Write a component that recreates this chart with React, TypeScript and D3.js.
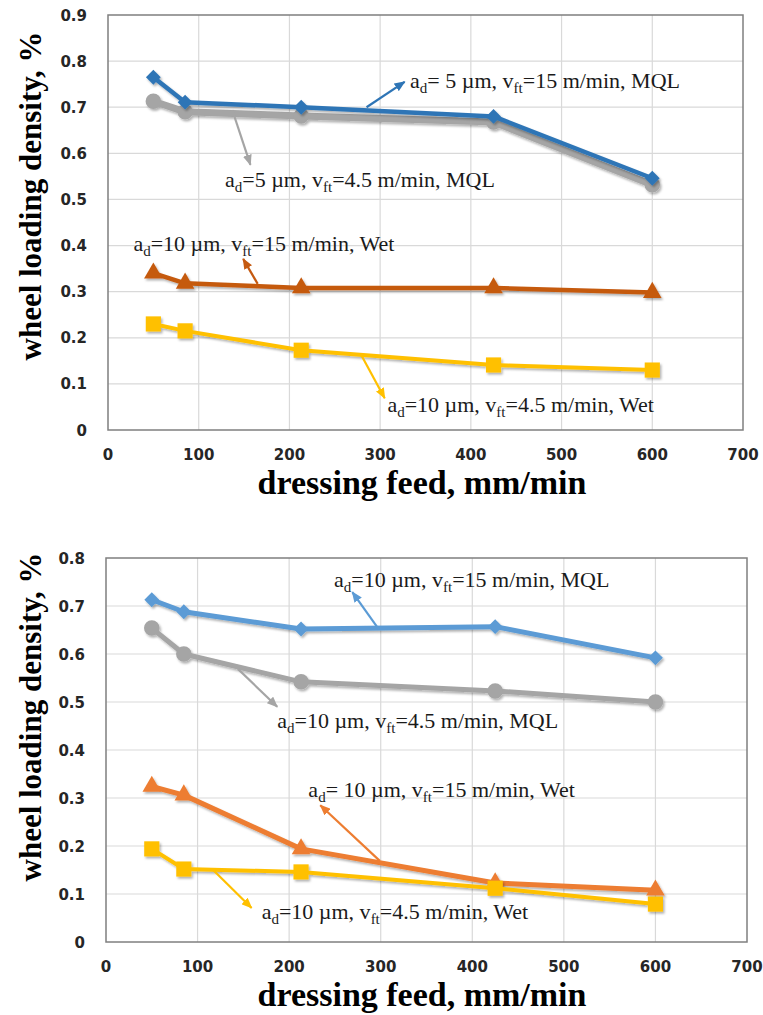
import * as d3 from 'd3';

// dressing feed values shared by every series (mm/min)
const feed = [50, 85, 213, 425, 600];
const xTicks = [0, 100, 200, 300, 400, 500, 600, 700];
const yTicksTop = [0, 0.1, 0.2, 0.3, 0.4, 0.5, 0.6, 0.7, 0.8, 0.9];
const yTicksBottom = [0, 0.1, 0.2, 0.3, 0.4, 0.5, 0.6, 0.7, 0.8];

// upper chart: wheel loading density, %
const topBlue = [0.765, 0.711, 0.7, 0.68, 0.546];
const topGray = [0.713, 0.69, 0.681, 0.668, 0.532];
const topOrange = [0.34, 0.318, 0.308, 0.308, 0.298];
const topYellow = [0.23, 0.215, 0.173, 0.141, 0.13];

// lower chart
const botBlue = [0.713, 0.688, 0.652, 0.657, 0.592];
const botGray = [0.654, 0.6, 0.542, 0.523, 0.5];
const botOrange = [0.324, 0.306, 0.194, 0.123, 0.108];
const botYellow = [0.194, 0.152, 0.146, 0.112, 0.079];

// annotation texts, "_d" / "_ft" mark the subscripts
const topLabels = [
  'a_d= 5 µm, v_ft=15 m/min, MQL',
  'a_d=5 µm, v_ft=4.5 m/min, MQL',
  'a_d=10 µm, v_ft=15 m/min, Wet',
  'a_d=10 µm, v_ft=4.5 m/min, Wet',
];
const botLabels = [
  'a_d=10 µm, v_ft=15 m/min, MQL',
  'a_d=10 µm, v_ft=4.5 m/min, MQL',
  'a_d= 10 µm, v_ft=15 m/min, Wet',
  'a_d=10 µm, v_ft=4.5 m/min, Wet',
];

const SERIF = '"Times New Roman", "Liberation Serif", serif';
const SANS = '"DejaVu Sans", Verdana, sans-serif';

type Marker = 'diamond' | 'circle' | 'triangle' | 'square';
type Series = { values: number[]; color: string; width: number; marker: Marker; size: number };
// arrow from [x0,y0] to [x1,y1], label starting at [lx,ly], all in data units
type Note = { from: [number, number]; to: [number, number]; at: [number, number]; text: string; color: string };

const markerPath = (m: Marker, size: number) => {
  const t =
    m === 'circle' ? d3.symbolCircle : m === 'triangle' ? d3.symbolTriangle : d3.symbolSquare;
  return d3.symbol().type(t).size(size)() as string;
};

function Label({ text, x, y }: { text: string; x: number; y: number }) {
  const parts = text.split(/_(d|ft)/);
  // parts: [before, sub, after, sub, after]
  return (
    <text x={x} y={y} fontFamily={SERIF} fontSize={22} fill="#1a1a1a">
      {parts.map((p, i) =>
        i % 2 === 1 ? (
          <tspan key={i} fontSize={15} dy={5}>
            {p}
          </tspan>
        ) : (
          <tspan key={i} dy={i === 0 ? 0 : -5}>
            {p}
          </tspan>
        )
      )}
    </text>
  );
}

function Panel({
  id,
  box,
  yMax,
  yTicks,
  series,
  notes,
  titleY,
}: {
  id: string;
  box: { left: number; right: number; top: number; bottom: number };
  yMax: number;
  yTicks: number[];
  series: Series[];
  notes: Note[];
  titleY: number;
}) {
  const x = d3.scaleLinear().domain([0, 700]).range([box.left, box.right]);
  const y = d3.scaleLinear().domain([0, yMax]).range([box.bottom, box.top]);
  const fmt = (v: number) => (v === 0 ? '0' : d3.format('.1f')(v));
  const line = d3
    .line<number>()
    .x((_, i) => x(feed[i]))
    .y((d) => y(d));

  return (
    <g>
      <defs>
        {notes.map((n, i) => (
          <marker
            key={i}
            id={`${id}-arrow-${i}`}
            markerUnits="userSpaceOnUse"
            markerWidth={11}
            markerHeight={9}
            refX={10}
            refY={4.5}
            orient="auto"
          >
            <path d="M0,0 L11,4.5 L0,9 z" fill={n.color} />
          </marker>
        ))}
      </defs>

      {/* grid */}
      {xTicks.slice(1, -1).map((t) => (
        <line key={`gx${t}`} x1={x(t)} x2={x(t)} y1={box.top} y2={box.bottom} stroke="#d9d9d9" strokeWidth={1.2} />
      ))}
      {yTicks.slice(1, -1).map((t) => (
        <line key={`gy${t}`} x1={box.left} x2={box.right} y1={y(t)} y2={y(t)} stroke="#d9d9d9" strokeWidth={1.2} />
      ))}
      <rect
        x={box.left}
        y={box.top}
        width={box.right - box.left}
        height={box.bottom - box.top}
        fill="none"
        stroke="#7f7f7f"
        strokeWidth={1.5}
      />

      {/* tick labels */}
      {yTicks.map((t) => (
        <text
          key={`ty${t}`}
          x={box.left - 21}
          y={y(t) + 5.5}
          textAnchor="end"
          fontFamily={SANS}
          fontWeight="bold"
          fontSize={15}
          fill="#262626"
        >
          {fmt(t)}
        </text>
      ))}
      {xTicks.map((t) => (
        <text
          key={`tx${t}`}
          x={x(t)}
          y={box.bottom + 30}
          textAnchor="middle"
          fontFamily={SANS}
          fontWeight="bold"
          fontSize={15}
          fill="#262626"
        >
          {t}
        </text>
      ))}

      {/* axis titles */}
      <text
        x={422}
        y={box.bottom + 64}
        textAnchor="middle"
        fontFamily={SERIF}
        fontWeight="bold"
        fontSize={34}
      >
        dressing feed, mm/min
      </text>
      <text
        transform={`translate(41, ${titleY}) rotate(-90)`}
        textAnchor="middle"
        fontFamily={SERIF}
        fontWeight="bold"
        fontSize={31}
      >
        wheel loading density, %
      </text>

      {/* series */}
      {series.map((s, si) => (
        <g key={si} filter="url(#shadow)">
          <path d={line(s.values) as string} fill="none" stroke={s.color} strokeWidth={s.width} strokeLinejoin="round" />
          {s.values.map((v, i) => (
            <path
              key={i}
              d={markerPath(s.marker, s.size)}
              transform={`translate(${x(feed[i])}, ${y(v)})${s.marker === 'diamond' ? ' rotate(45)' : ''}`}
              fill={s.color}
            />
          ))}
        </g>
      ))}

      {/* annotations */}
      {notes.map((n, i) => (
        <g key={i}>
          <line
            x1={x(n.from[0])}
            y1={y(n.from[1])}
            x2={x(n.to[0])}
            y2={y(n.to[1])}
            stroke={n.color}
            strokeWidth={2.2}
            markerEnd={`url(#${id}-arrow-${i})`}
          />
          <Label text={n.text} x={x(n.at[0])} y={y(n.at[1])} />
        </g>
      ))}
    </g>
  );
}

export default function App() {
  const topSeries: Series[] = [
    { values: topGray, color: '#a5a5a5', width: 7, marker: 'circle', size: 190 },
    { values: topBlue, color: '#2e75b6', width: 4.5, marker: 'diamond', size: 110 },
    { values: topOrange, color: '#c55a11', width: 4.5, marker: 'triangle', size: 150 },
    { values: topYellow, color: '#ffc000', width: 4, marker: 'square', size: 230 },
  ];
  const botSeries: Series[] = [
    { values: botGray, color: '#a5a5a5', width: 5, marker: 'circle', size: 190 },
    { values: botBlue, color: '#5b9bd5', width: 5, marker: 'diamond', size: 110 },
    { values: botOrange, color: '#ed7d31', width: 5, marker: 'triangle', size: 150 },
    { values: botYellow, color: '#ffc000', width: 4, marker: 'square', size: 230 },
  ];

  const topNotes: Note[] = [
    { from: [285, 0.7], to: [327, 0.755], at: [333, 0.742], text: topLabels[0], color: '#2e75b6' },
    { from: [137, 0.694], to: [157, 0.575], at: [129, 0.527], text: topLabels[1], color: '#a5a5a5' },
    { from: [165, 0.317], to: [149, 0.371], at: [28, 0.388], text: topLabels[2], color: '#c55a11' },
    { from: [279, 0.163], to: [305, 0.069], at: [308, 0.039], text: topLabels[3], color: '#ffc000' },
  ];
  const botNotes: Note[] = [
    { from: [297, 0.654], to: [269, 0.729], at: [249, 0.74], text: botLabels[0], color: '#5b9bd5' },
    { from: [144, 0.569], to: [187, 0.49], at: [187, 0.446], text: botLabels[1], color: '#a5a5a5' },
    { from: [299, 0.169], to: [234, 0.285], at: [221, 0.302], text: botLabels[2], color: '#ed7d31' },
    { from: [117, 0.15], to: [159, 0.071], at: [170, 0.048], text: botLabels[3], color: '#ffc000' },
  ];

  return (
    <svg
      width={763}
      height={1015}
      style={{ position: 'absolute', left: 0, top: 0, background: '#fff' }}
    >
      <defs>
        <filter id="shadow" x="-10%" y="-10%" width="130%" height="130%">
          <feDropShadow dx={1.5} dy={2} stdDeviation={1.3} floodColor="#000" floodOpacity={0.3} />
        </filter>
      </defs>
      <Panel
        id="top"
        box={{ left: 108, right: 743, top: 15, bottom: 430 }}
        yMax={0.9}
        yTicks={yTicksTop}
        series={topSeries}
        notes={topNotes}
        titleY={196}
      />
      <Panel
        id="bot"
        box={{ left: 106, right: 747, top: 558, bottom: 942 }}
        yMax={0.8}
        yTicks={yTicksBottom}
        series={botSeries}
        notes={botNotes}
        titleY={717}
      />
    </svg>
  );
}
